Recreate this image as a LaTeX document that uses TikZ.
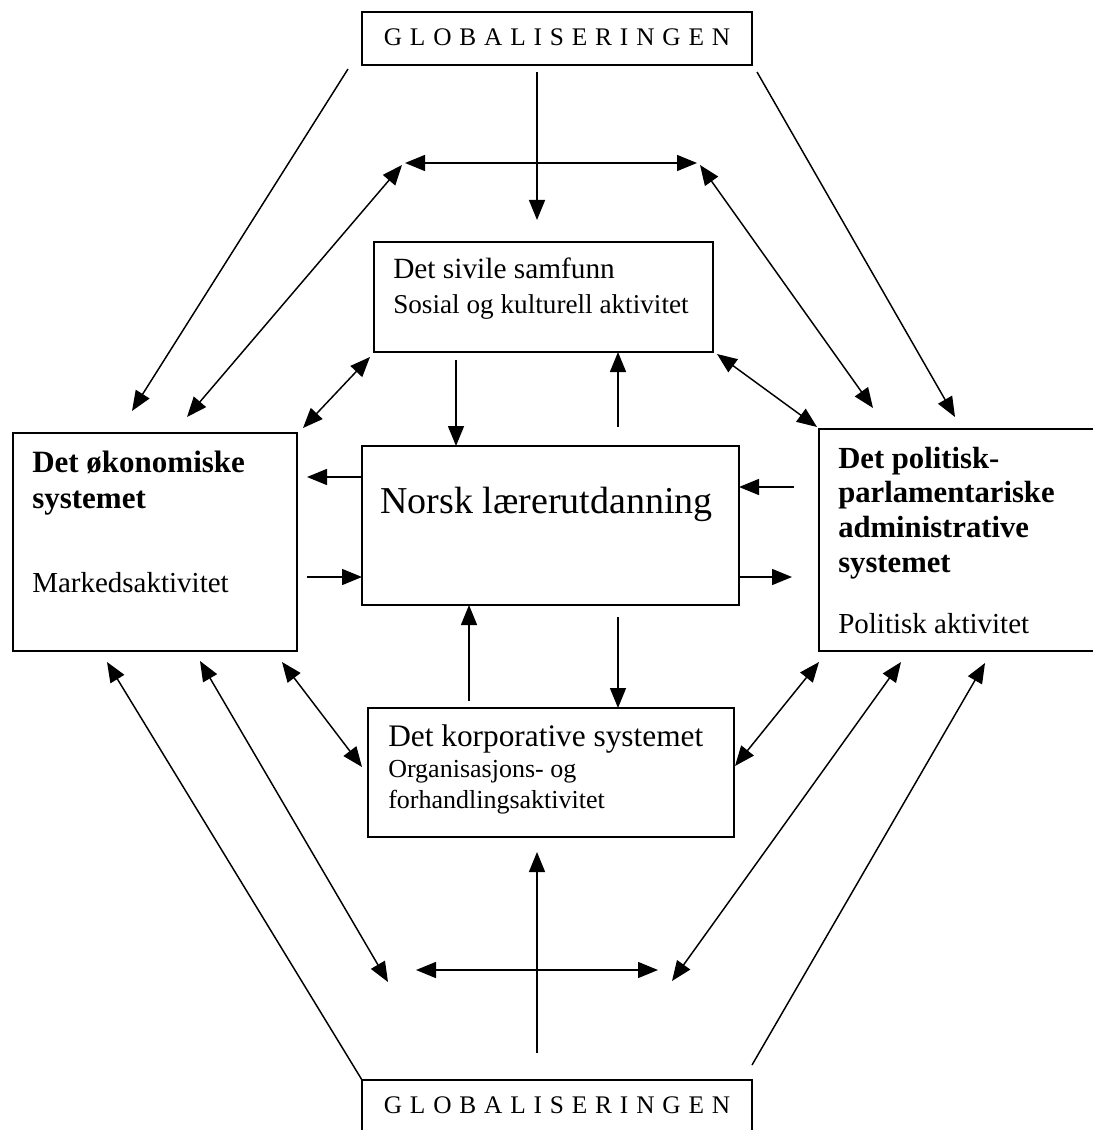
\documentclass[tikz,border=0pt]{standalone}
\usepackage{fontspec}
\setmainfont{Liberation Serif}
\usetikzlibrary{arrows.meta}

\tikzset{
  box/.style 2 args={draw,line width=1.3pt,anchor=north west,inner sep=0pt,outer sep=0pt,
    minimum width=#1*0.75pt,minimum height=#2*0.75pt},
  txt/.style={anchor=base west,inner sep=0pt,font=\fontsize{#1pt}{#1pt}\selectfont},
  glob/.style={anchor=base,inner sep=0pt,font=\fontsize{19pt}{19pt}\selectfont\addfontfeatures{LetterSpace=31}},
  conn/.style={line width=1.1pt,-{Triangle[length=15pt,width=12pt]}},
  both/.style={line width=1.1pt,{Triangle[length=15pt,width=12pt]}-{Triangle[length=15pt,width=12pt]}},
}

\begin{document}
\begin{tikzpicture}[x=0.75pt,y=-0.75pt]
\useasboundingbox (0,0) rectangle (1092,1130);

% boxes
\node[box={390}{53}] (globtop) at (362,12) {};
\node[box={390}{62}] (globbot) at (362,1080) {};
\node[box={339}{110}] (sivile) at (374,242) {};
\node[box={377}{159}] (norsk) at (362,446) {};
\node[box={284}{218}] (oko) at (13,433) {};
\node[box={285}{222}] (pol) at (819,429) {};
\node[box={366}{129}] (korp) at (368,708) {};

% texts
\node[glob] (globtoptxt) at (557,46) {GLOBALISERINGEN};
\node[glob] (globbottxt) at (557,1113) {GLOBALISERINGEN};
\node[txt=22] (sivileA) at (393,279) {Det sivile samfunn};
\node[txt=20.4] (sivileB) at (393,314) {Sosial og kulturell aktivitet};
\node[txt=28.5] (norskA) at (380,513) {Norsk lærerutdanning};
\node[txt=23.25] (okoA) at (32,472) {\bfseries Det økonomiske};
\node[txt=23.25] (okoB) at (32,508) {\bfseries systemet};
\node[txt=21.75] (okoC) at (32,592) {Markedsaktivitet};
\node[txt=23] (polA) at (838,468) {\bfseries Det politisk-};
\node[txt=23] (polB) at (838,502) {\bfseries parlamentariske};
\node[txt=23] (polC) at (838,537) {\bfseries administrative};
\node[txt=23] (polD) at (838,572) {\bfseries systemet};
\node[txt=21.75] (polE) at (838,633) {Politisk aktivitet};
\node[txt=23.5] (korpA) at (388,746) {Det korporative systemet};
\node[txt=19.5] (korpB) at (388,777) {Organisasjons- og};
\node[txt=19.5] (korpC) at (388,808) {forhandlingsaktivitet};

% free ends
\coordinate (gt) at (537,72);
\coordinate (gtend) at (537,220);
\coordinate (hl) at (405,163);
\coordinate (hr) at (697,163);
\coordinate (lo1) at (348,69);
\coordinate (lo2) at (132,411);
\coordinate (li1) at (402,165);
\coordinate (li2) at (187,417);
\coordinate (ro1) at (757,72);
\coordinate (ro2) at (955,417);
\coordinate (ri1) at (700,165);
\coordinate (ri2) at (873,408);
\coordinate (sl1) at (370,357);
\coordinate (sl2) at (303,428);
\coordinate (sr1) at (717,354);
\coordinate (sr2) at (817,427);
\coordinate (sd) at (456,360);
\coordinate (su) at (618,427);
\coordinate (nl) at (307,477);
\coordinate (ol) at (307,577);
\coordinate (pr) at (794,487);
\coordinate (nr) at (792,577);
\coordinate (ku) at (469,701);
\coordinate (nd) at (618,617);
\coordinate (kl1) at (282,662);
\coordinate (kl2) at (362,767);
\coordinate (kr1) at (819,662);
\coordinate (kr2) at (735,766);
\coordinate (gb) at (537,1053);
\coordinate (gbend) at (537,852);
\coordinate (bl) at (416,970);
\coordinate (br) at (658,970);
\coordinate (bo1) at (107,662);
\coordinate (bi1) at (388,982);
\coordinate (bi2) at (200,661);
\coordinate (bj1) at (672,981);
\coordinate (bj2) at (901,662);
\coordinate (bq1) at (752,1065);
\coordinate (bq2) at (985,663);

% upper half
\draw[conn] (gt) -- (gtend);
\draw[both] (hl) -- (hr);
\draw[conn] (lo1) -- (lo2);
\draw[both] (li1) -- (li2);
\draw[conn] (ro1) -- (ro2);
\draw[both] (ri1) -- (ri2);
\draw[both] (sl1) -- (sl2);
\draw[both] (sr1) -- (sr2);
\draw[conn] (sd) -- (sd |- norsk.north);
\draw[conn] (su) -- (su |- sivile.south);

% around the centre
\draw[conn] (norsk.west |- nl) -- (nl);
\draw[conn] (ol) -- (norsk.west |- ol);
\draw[conn] (pr) -- (norsk.east |- pr);
\draw[conn] (norsk.east |- nr) -- (nr);
\draw[conn] (ku) -- (ku |- norsk.south);
\draw[conn] (nd) -- (nd |- korp.north);

% lower half
\draw[both] (kl1) -- (kl2);
\draw[both] (kr1) -- (kr2);
\draw[conn] (gb) -- (gbend);
\draw[both] (bl) -- (br);
\draw[conn] (globbot.north west) -- (bo1);
\draw[both] (bi1) -- (bi2);
\draw[both] (bj1) -- (bj2);
\draw[conn] (bq1) -- (bq2);
\end{tikzpicture}
\end{document}
